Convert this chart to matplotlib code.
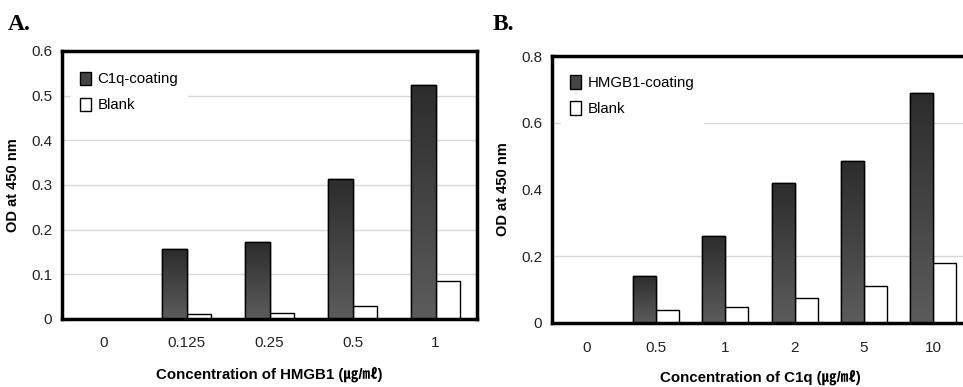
import numpy as np
import matplotlib
matplotlib.use("Agg")
from matplotlib import pyplot as plt
from matplotlib.patches import Patch
from matplotlib.colors import LinearSegmentedColormap


# data

hmgb1_conc = ["0", "0.125", "0.25", "0.5", "1"]
c1q_coating = [0, 0.156, 0.173, 0.313, 0.524]
blank_a = [0, 0.012, 0.014, 0.029, 0.086]

c1q_conc = ["0", "0.5", "1", "2", "5", "10"]
hmgb1_coating = [0, 0.142, 0.262, 0.420, 0.486, 0.690]
blank_b = [0, 0.040, 0.048, 0.075, 0.111, 0.180]

plt.rcParams['font.family'] = ['Liberation Sans', 'Noto Sans CJK KR', 'DejaVu Sans']

W, H = 963, 387
fig = plt.figure(figsize=(W / 100, H / 100), dpi=100)

grad = LinearSegmentedColormap.from_list("bar", ["#5c5c5c", "#2c2c2c"])


def gradient_bars(ax, x, vals, width):
    bars = ax.bar(x, vals, width, color="#444444", edgecolor="black", linewidth=1, zorder=3)
    g = np.linspace(0, 1, 256).reshape(-1, 1)
    for b in bars:
        if b.get_height() <= 0:
            continue
        x0 = b.get_x()
        im = ax.imshow(g, cmap=grad, origin="lower", aspect="auto", zorder=3.5,
                       extent=[x0, x0 + b.get_width(), 0, b.get_height()])
        im.set_clip_path(b)
        ax.add_patch(plt.Rectangle((x0, 0), b.get_width(), b.get_height(),
                                   fill=False, edgecolor="black", linewidth=1, zorder=4))
    return bars


def panel(rect, cats, dark, white, width, ylim, yticks, grid, dark_name, xlabel, xtick_pad, leg_y):
    ax = fig.add_axes(rect)
    x = np.arange(len(cats))
    gradient_bars(ax, x - width / 2, dark, width)
    ax.bar(x + width / 2, white, width, color="white", edgecolor="black", linewidth=1, zorder=3)
    for g in grid:
        ax.axhline(g, color="#d8d8d8", linewidth=1, zorder=1)
    ax.set_xlim(-0.5, len(cats) - 0.5)
    ax.set_ylim(*ylim)
    ax.set_yticks(yticks)
    ax.set_yticklabels([("%g" % t) for t in yticks])
    ax.set_xticks(x)
    ax.set_xticklabels(cats)
    ax.tick_params(axis="both", length=0, labelsize=11, colors="#222222")
    ax.tick_params(axis="y", pad=7)
    ax.tick_params(axis="x", pad=xtick_pad)
    for s in ax.spines.values():
        s.set_linewidth(2.5)
        s.set_zorder(6)
    ax.set_ylabel("OD at 450 nm", fontsize=10.5, fontweight="bold", va="center")
    ax.yaxis.set_label_coords(-0.117, 0.5)
    ax.set_xlabel(xlabel, fontsize=10.8, fontweight="bold", va="center")
    ax.xaxis.set_label_coords(0.5, -0.205)
    handles = [Patch(facecolor="#444444", edgecolor="black"),
               Patch(facecolor="white", edgecolor="black")]
    leg = ax.legend(handles, [dark_name, "Blank"], loc="upper left",
                    bbox_to_anchor=(0.004, leg_y), fontsize=10.8, frameon=True,
                    fancybox=False, framealpha=1, edgecolor="white",
                    handlelength=0.7, handleheight=1.0, handletextpad=0.45,
                    labelspacing=0.75, borderpad=0.6)
    leg.set_zorder(5)
    return ax


axA = panel([62 / W, 1 - 319 / H, 415 / W, 268 / H], hmgb1_conc, c1q_coating, blank_a,
            0.295, (0, 0.6), [0, 0.1, 0.2, 0.3, 0.4, 0.5, 0.6], [0.1, 0.2, 0.3, 0.4, 0.5],
            "C1q-coating", "Concentration of HMGB1 (㎍/㎖)", 12, 0.985)

axB = panel([552 / W, 1 - 323 / H, 416 / W, 267 / H], c1q_conc, hmgb1_coating, blank_b,
            0.33, (0, 0.8), [0, 0.2, 0.4, 0.6, 0.8], [0.2, 0.6],
            "HMGB1-coating", "Concentration of C1q (㎍/㎖)", 13, 0.99)

fig.text(8 / W, 1 - 30 / H, "A.", fontsize=17, fontweight="bold", family="Liberation Serif")
fig.text(493 / W, 1 - 30 / H, "B.", fontsize=17, fontweight="bold", family="Liberation Serif")

fig.savefig("out.png", dpi=100)
